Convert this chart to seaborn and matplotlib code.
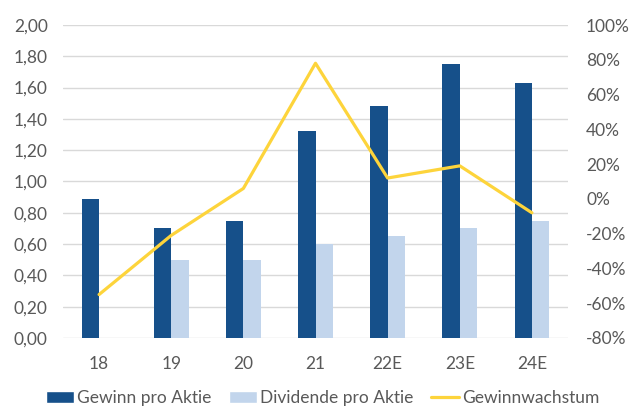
import matplotlib
matplotlib.use("Agg")
import matplotlib.pyplot as plt
import matplotlib.ticker as mticker
from matplotlib.lines import Line2D
from matplotlib.patches import Patch
import numpy as np
import pandas as pd
import seaborn as sns

# Data
jahre = ["18", "19", "20", "21", "22E", "23E", "24E"]
gewinn = [0.89, 0.70, 0.75, 1.32, 1.48, 1.75, 1.63]
dividende = [np.nan, 0.50, 0.50, 0.60, 0.65, 0.70, 0.75]
wachstum = [-0.55, -0.21, 0.06, 0.78, 0.12, 0.19, -0.08]

serien = ["Gewinn pro Aktie", "Dividende pro Aktie"]
linien_name = "Gewinnwachstum"

dunkelblau = "#16508A"
hellblau = "#C2D5EC"
gelb = "#FDD43B"
textgrau = "#595959"
gitter = "#D9D9D9"

sns.set_theme(style="white")
plt.rcParams["font.family"] = ["Lato", "DejaVu Sans"]

df_bars = pd.DataFrame({
    "Jahr": jahre * 2,
    "Wert": gewinn + dividende,
    "Serie": [serien[0]] * len(jahre) + [serien[1]] * len(jahre),
})
df_line = pd.DataFrame({"Jahr": jahre, "Wachstum": wachstum})

fig = plt.figure(figsize=(6.31, 4.07), dpi=100)
ax = fig.add_axes([63 / 631, 1 - 338 / 407, (568 - 63) / 631, (338 - 25) / 407])

sns.barplot(data=df_bars, x="Jahr", y="Wert", hue="Serie",
            palette=[dunkelblau, hellblau], saturation=1, width=0.48,
            linewidth=0, ax=ax, legend=False)

ax2 = ax.twinx()
sns.lineplot(data=df_line, x="Jahr", y="Wachstum", color=gelb,
             linewidth=2.3, ax=ax2, legend=False, sort=False)

ax.set_xlim(-0.5, len(jahre) - 0.5)
ax.set_ylim(0, 2.0)
ax.yaxis.set_major_locator(mticker.MultipleLocator(0.2))
ax.yaxis.set_major_formatter(mticker.FuncFormatter(lambda v, p: f"{v:.2f}".replace(".", ",")))
ax2.set_ylim(-0.8, 1.0)
ax2.yaxis.set_major_locator(mticker.MultipleLocator(0.2))
ax2.yaxis.set_major_formatter(mticker.FuncFormatter(lambda v, p: f"{v * 100:.0f}%"))

ax.grid(axis="y", color=gitter, linewidth=1.0)
ax.set_axisbelow(True)
for a in (ax, ax2):
    for s in a.spines.values():
        s.set_visible(False)
    a.set_xlabel("")
    a.set_ylabel("")

ax.tick_params(axis="y", length=0, pad=11, labelsize=12.5, labelcolor=textgrau)
ax.tick_params(axis="x", length=0, pad=13, labelsize=12.5, labelcolor=textgrau)
ax2.tick_params(axis="y", length=0, pad=13, labelsize=12.5, labelcolor=textgrau)

handles = [
    Patch(facecolor=dunkelblau, label=serien[0]),
    Patch(facecolor=hellblau, label=serien[1]),
    Line2D([0], [0], color=gelb, linewidth=2.3, label=linien_name),
]
fig.legend(handles=handles, loc="center", bbox_to_anchor=(323 / 631, 1 - 398 / 407),
           ncol=3, frameon=False, fontsize=12.5, labelcolor=textgrau,
           handlelength=1.6, handleheight=0.7, handletextpad=0.2, columnspacing=1.0)

fig.savefig("out.png", dpi=100)
